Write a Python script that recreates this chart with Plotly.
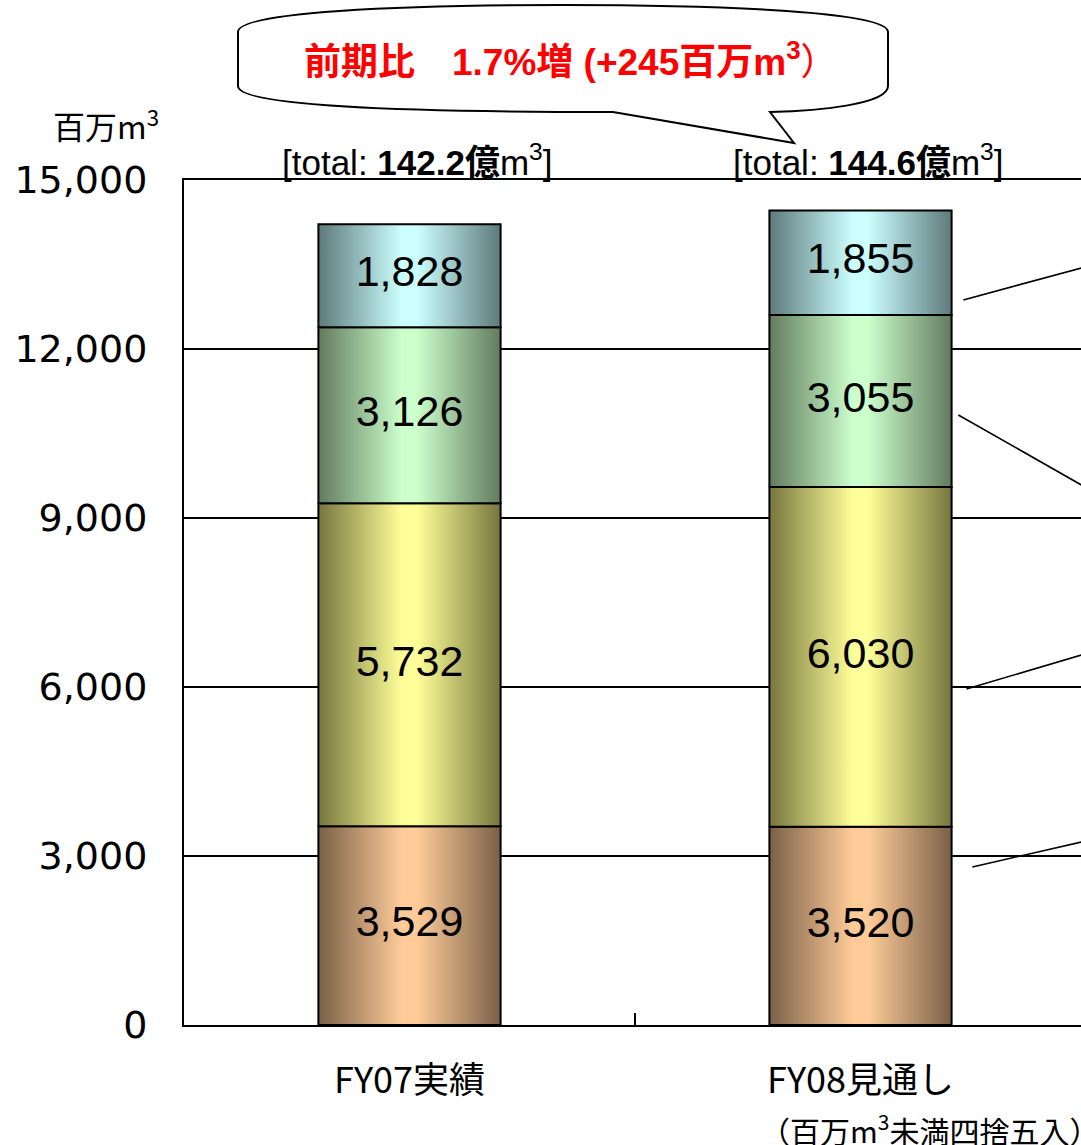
import plotly.graph_objects as go

# ---- data -------------------------------------------------------------
categories = ["FY07実績", "FY08見通し"]
layer_1 = [3529, 3520]   # bottom segment
layer_2 = [5732, 6030]
layer_3 = [3126, 3055]
layer_4 = [1828, 1855]   # top segment
y_tick_values = [0, 3000, 6000, 9000, 12000, 15000]

layers = [layer_1, layer_2, layer_3, layer_4]
# (centre highlight, edge shade) for each segment's horizontal gradient
layer_colors = [
    ("#FFCC99", "#7A6048"),
    ("#FFFF99", "#76763F"),
    ("#CCFFCC", "#627B5E"),
    ("#CCFFFF", "#5E7A7C"),
]

# ---- canvas geometry ---------------------------------------------------
W, H = 1081, 1145
L, R, T, B = 184, 0, 180, 120
BAR_HALF = 0.202

LATIN = "Liberation Sans, Arial, Noto Sans CJK JP"
CJK = "Noto Sans CJK JP, Liberation Sans"


def paper_x(px):
    return (px - L) / (W - L - R)


def paper_y(py):
    return (H - B - py) / (H - T - B)


fig = go.Figure()

totals = [sum(v) for v in zip(*layers)]

# stacked segments with a cylinder-like gradient
label_x, label_y, label_text = [], [], []
for i in range(len(categories)):
    base = 0
    for layer, (light, dark) in zip(layers, layer_colors):
        v = layer[i]
        x0, x1 = i - BAR_HALF, i + BAR_HALF
        fig.add_trace(go.Scatter(
            x=[x0, x1, x1, x0, x0],
            y=[base, base, base + v, base + v, base],
            mode="lines",
            fill="toself",
            fillgradient=dict(
                type="horizontal", start=x0, stop=x1,
                colorscale=[[0, dark], [0.46, light], [0.54, light], [1, dark]],
            ),
            line=dict(color="black", width=2),
            hoverinfo="skip",
            showlegend=False,
        ))
        label_x.append(i)
        label_y.append(base + v / 2)
        label_text.append(f"{v:,}")
        base += v

fig.add_trace(go.Scatter(
    x=label_x, y=label_y, text=label_text, mode="text",
    textfont=dict(family=LATIN, size=43, color="black"),
    hoverinfo="skip", showlegend=False,
))

# leader lines running towards the series names on the right
leaders = [
    ((1.228, 12870), (1.49, 13439)),
    ((1.217, 10829), (1.49, 9586)),
    ((1.235, 5965), (1.49, 6568)),
    ((1.248, 2805), (1.49, 3249)),
]
for (ax, ay), (bx, by) in leaders:
    fig.add_shape(type="line", xref="x", yref="y", x0=ax, y0=ay, x1=bx, y1=by,
                  line=dict(color="black", width=1.6), layer="above")

# speech-bubble callout
bubble_px = [
    ("M", [(238, 32)]),
    ("C", [(238, 12), (400, 5), (563, 5)]),
    ("C", [(726, 5), (888, 12), (888, 32)]),
    ("L", [(888, 86)]),
    ("C", [(888, 104), (820, 111), (770, 112)]),
    ("L", [(794, 143)]),
    ("L", [(613, 112)]),
    ("C", [(400, 112), (238, 106), (238, 86)]),
]
path = ""
for cmd, pts in bubble_px:
    path += cmd + " " + " ".join(f"{paper_x(px):.5f},{paper_y(py):.5f}" for px, py in pts) + " "
path += "Z"
fig.add_shape(type="path", xref="paper", yref="paper", path=path,
              line=dict(color="black", width=2), fillcolor="white", layer="above")

diff = totals[1] - totals[0]
pct = diff / totals[0] * 100
fig.add_annotation(
    xref="paper", yref="paper", x=paper_x(571), y=paper_y(60),
    text=f"<b>前期比　{pct:.1f}%増 (+{diff}百万m<sup>3</sup></b>）",
    showarrow=False, font=dict(family=LATIN, size=37, color="#FF0000"),
    xanchor="center", yanchor="middle",
)

# totals above each bar
for i, t in enumerate(totals):
    fig.add_annotation(
        xref="x", yref="paper", x=i + 0.016, y=paper_y(160),
        text=f"[total: <b>{t / 100:.1f}億</b>m<sup>3</sup>]",
        showarrow=False, font=dict(family=LATIN, size=35, color="black"),
        xanchor="center", yanchor="middle",
    )

# unit label over the value axis
fig.add_annotation(
    xref="paper", yref="paper", x=paper_x(106), y=paper_y(124),
    text="百万m<sup>3</sup>", showarrow=False,
    font=dict(family=CJK, size=32, color="black"),
    xanchor="center", yanchor="middle",
)

# rounding note
fig.add_annotation(
    xref="paper", yref="paper", x=paper_x(758), y=paper_y(1129),
    text="（百万m<sup>3</sup>未満四捨五入）", showarrow=False,
    font=dict(family=CJK, size=30, color="black"),
    xanchor="left", yanchor="middle",
)

fig.update_layout(
    width=W, height=H,
    margin=dict(l=L, r=R, t=T, b=B, pad=0),
    paper_bgcolor="white", plot_bgcolor="white",
    showlegend=False,
    xaxis=dict(
        range=[-0.5, (W - R - L) / 451 - 0.5],
        tickmode="array", tickvals=list(range(len(categories))), ticktext=categories,
        ticks="", showgrid=False, zeroline=False,
        showline=True, linecolor="black", linewidth=2, mirror=True,
        tickfont=dict(family=CJK, size=36, color="black"),
        ticklabelstandoff=23,
        minor=dict(tickmode="array", tickvals=[0.5], ticks="inside",
                   ticklen=12, tickwidth=2, tickcolor="black", showgrid=False),
        fixedrange=True,
    ),
    yaxis=dict(
        range=[0, 15000],
        tickmode="array", tickvals=y_tick_values,
        ticktext=[f"{v:,}" for v in y_tick_values],
        ticks="", showgrid=True, gridcolor="black", gridwidth=2,
        zeroline=False, showline=True, linecolor="black", linewidth=2,
        tickfont=dict(family="DejaVu Sans", size=38, color="black"),
        ticklabelstandoff=27,
        fixedrange=True,
    ),
)

fig.write_html("out.html")
